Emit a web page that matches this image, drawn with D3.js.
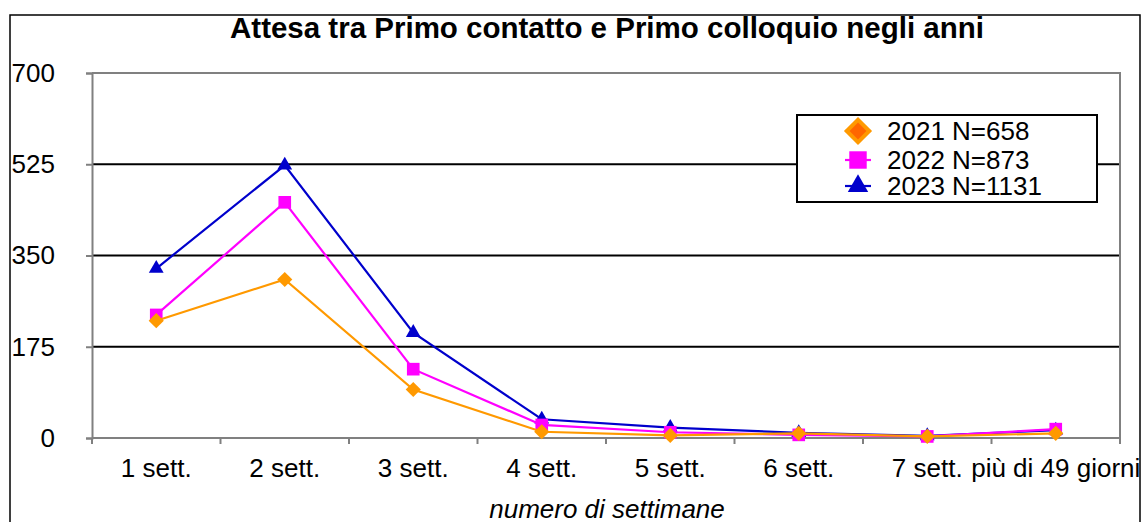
<!DOCTYPE html>
<html lang="it">
<head>
<meta charset="UTF-8">
<title>Attesa tra Primo contatto e Primo colloquio</title>
<script src="https://cdn.jsdelivr.net/npm/d3@7"></script>
<style>
  body { margin: 0; background: #fff; }
  svg text { font-family: Arial, "Liberation Sans", sans-serif; fill: #000; }
</style>
</head>
<body>
<svg id="chart" width="1147" height="522"></svg>
<script>
// data
const categories = ["1 sett.", "2 sett.", "3 sett.", "4 sett.", "5 sett.", "6 sett.", "7 sett.", "più di 49 giorni"];
const yTicks = [0, 175, 350, 525, 700];
const seriesNames = ["2021 N=658", "2022 N=873", "2023 N=1131"];
const values2021 = [225, 304, 93, 12, 5, 9, 3, 9];
const values2022 = [236, 452, 132, 25, 11, 6, 3, 17];
const values2023 = [325, 523, 202, 36, 20, 10, 4, 15];

const colors = ["#FF9900", "#FF00FF", "#0000CC"];
const allValues = [values2021, values2022, values2023];

const svg = d3.select("#chart");
const m = { left: 92, right: 1120, top: 73, bottom: 438 };

// outer frame
svg.append("rect").attr("x", 10).attr("y", 15).attr("width", 1130).attr("height", 530)
  .attr("fill", "none").attr("stroke", "#000").attr("stroke-width", 1.5);

const x = d3.scaleBand().domain(categories).range([m.left, m.right]).padding(0);
const y = d3.scaleLinear().domain([0, 700]).range([m.bottom, m.top]);

// gridlines
svg.append("g").selectAll("line").data(yTicks.filter(d => d > 0 && d < 700)).join("line")
  .attr("x1", m.left).attr("x2", m.right)
  .attr("y1", d => y(d)).attr("y2", d => y(d))
  .attr("stroke", "#000").attr("stroke-width", 2);

// plot area border (grey)
svg.append("path")
  .attr("d", `M${m.left},${m.top}H${m.right}V${m.bottom}`)
  .attr("fill", "none").attr("stroke", "#808080").attr("stroke-width", 2);

// y axis
const yAxis = svg.append("g").attr("transform", `translate(${m.left},0)`)
  .call(d3.axisLeft(y).tickValues(yTicks).tickSize(6).tickPadding(31));
yAxis.select(".domain").attr("stroke", "#808080").attr("stroke-width", 2);
yAxis.selectAll(".tick line").attr("stroke", "#808080").attr("stroke-width", 2);
yAxis.selectAll(".tick text").attr("font-size", 26).attr("fill", "#000")
  .attr("font-family", "Arial, 'Liberation Sans', sans-serif");

// x axis with ticks at category boundaries
const xAxisG = svg.append("g");
xAxisG.append("line").attr("x1", m.left).attr("x2", m.right)
  .attr("y1", m.bottom).attr("y2", m.bottom)
  .attr("stroke", "#808080").attr("stroke-width", 2);
const bounds = categories.map(c => x(c)).concat([x(categories[categories.length - 1]) + x.bandwidth()]);
xAxisG.selectAll(".xt").data(bounds).join("line").attr("class", "xt")
  .attr("x1", d => d).attr("x2", d => d)
  .attr("y1", m.bottom).attr("y2", m.bottom + 6)
  .attr("stroke", "#808080").attr("stroke-width", 2);
xAxisG.selectAll("text").data(categories).join("text")
  .attr("x", d => x(d) + x.bandwidth() / 2).attr("y", 477)
  .attr("text-anchor", "middle").attr("font-size", 26).text(d => d);

// title and axis title
svg.append("text").attr("x", 607).attr("y", 38).attr("text-anchor", "middle")
  .attr("font-size", 29.5).attr("font-weight", "bold").text("Attesa tra Primo contatto e Primo colloquio negli anni");
svg.append("text").attr("x", 607).attr("y", 518).attr("text-anchor", "middle")
  .attr("font-size", 26).attr("font-style", "italic").text("numero di settimane");

// marker shapes: diamond, square, triangle
function marker(s, k) {
  if (s === 0) return d3.symbol().type(d3.symbolSquare).size(115 * k)();
  if (s === 1) return d3.symbol().type(d3.symbolSquare).size(160 * k)();
  return d3.symbol().type(d3.symbolTriangle).size(95 * k)();
}

// series (2023 first so 2021 sits on top)
const line = d3.line().x((d, i) => x(categories[i]) + x.bandwidth() / 2).y(d => y(d));
[2, 1, 0].forEach(s => {
  const g = svg.append("g");
  g.append("path").datum(allValues[s]).attr("d", line)
    .attr("fill", "none").attr("stroke", colors[s]).attr("stroke-width", 2.2);
  g.selectAll("path.mk").data(allValues[s]).join("path").attr("class", "mk")
    .attr("transform", (d, i) => `translate(${x(categories[i]) + x.bandwidth() / 2},${y(d)})` + (s === 0 ? " rotate(45)" : ""))
    .attr("d", marker(s, 1))
    .attr("fill", colors[s]);
});

// legend
const lg = svg.append("g");
lg.append("rect").attr("x", 797).attr("y", 115).attr("width", 300).attr("height", 87)
  .attr("fill", "#fff").attr("stroke", "#000").attr("stroke-width", 2);
const rowY = [131, 160, 186];
seriesNames.forEach((n, i) => {
  lg.append("line").attr("x1", 845).attr("x2", 871).attr("y1", rowY[i]).attr("y2", rowY[i])
    .attr("stroke", colors[i]).attr("stroke-width", 2.2);
  lg.append("path").attr("transform", `translate(858,${rowY[i]})` + (i === 0 ? " rotate(45)" : ""))
    .attr("d", marker(i, i === 0 ? 2.2 : 1.9))
    .attr("fill", i === 0 ? "#FF6600" : colors[i])
    .attr("stroke", colors[i]).attr("stroke-width", i === 0 ? 4 : 0);
  lg.append("text").attr("x", 887).attr("y", rowY[i] + 9).attr("font-size", 26).text(n);
});
</script>
</body>
</html>
